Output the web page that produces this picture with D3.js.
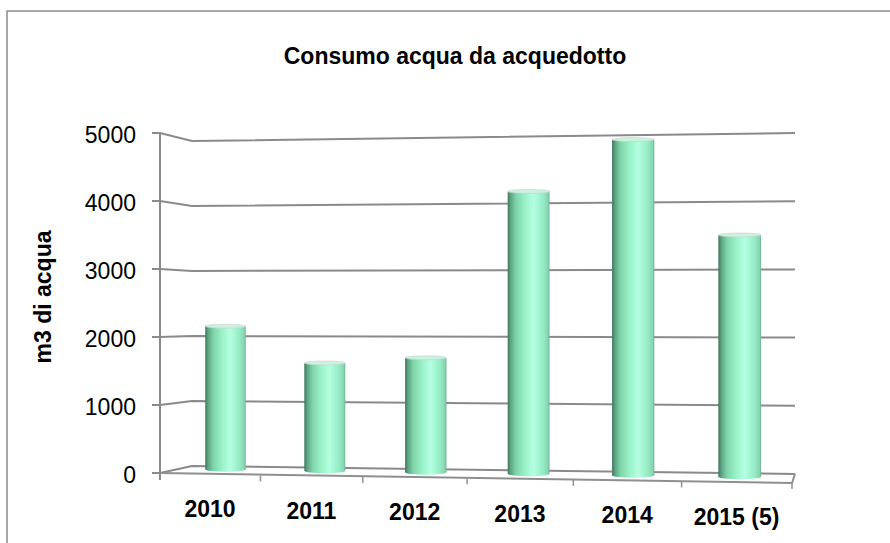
<!DOCTYPE html>
<html>
<head>
<meta charset="utf-8">
<script src="https://cdn.jsdelivr.net/npm/d3@7"></script>
<style>
  body { margin: 0; background: #fff; }
  text { font-family: "Liberation Sans", Arial, sans-serif; fill: #000; }
</style>
</head>
<body>
<div id="chart"></div>
<script>
// data
const years = ["2010", "2011", "2012", "2013", "2014", "2015 (5)"];
const consumo = [2150, 1610, 1700, 4170, 4930, 3530];
const yTicks = [0, 1000, 2000, 3000, 4000, 5000];
const chartTitle = "Consumo acqua da acquedotto";
const yTitle = "m3 di acqua";

const W = 890, H = 543;

// projective interpolator, so the categories get wider toward the right (3D look)
function persp(k) {
  return function(a, b) {
    return t => a + (b - a) * (k * t / (1 + (k - 1) * t));
  };
}

var svg = d3.select("#chart")
            .append("svg")
            .attr("width", W)
            .attr("height", H);

var defs = svg.append("defs");
var grad = defs.append("linearGradient").attr("id", "cyl")
  .attr("x1", "0%").attr("x2", "100%").attr("y1", "0%").attr("y2", "0%");
[["0%", "#3e755b"], ["7%", "#5ca583"], ["20%", "#7fd4ab"], ["42%", "#9bf2c8"],
 ["62%", "#b4ffe2"], ["84%", "#96ecc5"], ["96%", "#86d6b1"], ["100%", "#6fae92"]]
  .forEach(s => grad.append("stop").attr("offset", s[0]).attr("stop-color", s[1]));

// frame
svg.append("rect")
   .attr("x", 7).attr("y", 11)
   .attr("width", W).attr("height", H)
   .attr("fill", "none")
   .attr("stroke", "#8c8c8c")
   .attr("stroke-width", 1.5);

// title
svg.append("text")
   .attr("x", 455).attr("y", 64)
   .attr("text-anchor", "middle")
   .attr("font-weight", "bold")
   .attr("font-size", 23)
   .text(chartTitle);

// value scales: front edge, back wall left corner, back wall right corner
const yFront = d3.scaleLinear().domain([0, 5000]).range([473, 133]);
const yBackL = d3.scaleLinear().domain([0, 5000]).range([466, 141]);
const yBackR = d3.scaleLinear().domain([0, 5000]).range([474, 133]);
const xFrontL = 160, xBackL = 192, xBackR = 795;

// category scales
const xFront = d3.scaleLinear().domain([0, years.length]).range([160, 792]).interpolate(persp(0.945));
const xBar = d3.scaleLinear().domain([0, years.length - 1]).range([225.5, 739.7]).interpolate(persp(0.957));
const floorFront = d3.scaleLinear().domain([160, 792]).range([474, 483]);

// bar plane value scales (left-most and right-most bar)
const yBarL = d3.scaleLinear().domain([0, 5000]).range([469.2, 469.2 - 332.5]);
const yBarR = d3.scaleLinear().domain([0, 5000]).range([476.8, 476.8 - 342.5]);
const barT = d3.scaleLinear().domain([xBar(0), xBar(years.length - 1)]).range([0, 1]);
const barW = d3.scaleLinear().domain([0, 1]).range([40.5, 42.7]);
const yBar = (v, t) => yBarL(v) * (1 - t) + yBarR(v) * t;

var line = d3.line();

// gridlines (side wall + back wall)
svg.append("g").attr("class", "grid")
   .selectAll("path")
   .data(yTicks)
   .join("path")
   .attr("d", v => line([[xFrontL - 8, yFront(v)], [xFrontL, yFront(v)], [xBackL, yBackL(v)], [xBackR, yBackR(v)]]))
   .attr("fill", "none")
   .attr("stroke", "#8a8a8a")
   .attr("stroke-width", 2);

// floor
var floor = svg.append("g").attr("class", "floor");
floor.append("path")
   .attr("d", line([[xFrontL, yFront(0)], [xFront(years.length), floorFront(xFront(years.length))], [xBackR, yBackR(0)]]))
   .attr("fill", "none")
   .attr("stroke", "#8f8f8f")
   .attr("stroke-width", 2);
floor.selectAll("line.tk")
   .data(d3.range(years.length + 1))
   .join("line")
   .attr("class", "tk")
   .attr("x1", i => xFront(i)).attr("x2", i => xFront(i))
   .attr("y1", i => floorFront(xFront(i)))
   .attr("y2", i => floorFront(xFront(i)) + 6)
   .attr("stroke", "#8f8f8f")
   .attr("stroke-width", 1.5);

// y axis line
svg.append("line")
   .attr("x1", xFrontL).attr("x2", xFrontL)
   .attr("y1", yFront(5000)).attr("y2", yFront(0) + 7)
   .attr("stroke", "#8a8a8a")
   .attr("stroke-width", 2);

// tick labels
svg.append("g")
   .selectAll("text")
   .data(yTicks)
   .join("text")
   .attr("x", 136)
   .attr("y", v => yFront(v) + 2)
   .attr("dy", "0.35em")
   .attr("text-anchor", "end")
   .attr("font-size", 23)
   .text(v => v);

// y title
svg.append("text")
   .attr("transform", "translate(51,297) rotate(-90)")
   .attr("text-anchor", "middle")
   .attr("font-weight", "bold")
   .attr("font-size", 23)
   .text(yTitle);

// cylinders
var bars = svg.append("g").attr("class", "bars")
   .selectAll("g")
   .data(consumo)
   .join("g");

bars.each(function(v, i) {
  var g = d3.select(this);
  var cx = xBar(i), t = barT(cx), w = barW(t);
  var yb = yBar(0, t), yt = yBar(v, t);
  g.append("ellipse")
   .attr("cx", cx).attr("cy", yb)
   .attr("rx", w / 2).attr("ry", 2.5)
   .attr("fill", "url(#cyl)");
  g.append("rect")
   .attr("x", cx - w / 2).attr("y", yt)
   .attr("width", w).attr("height", yb - yt)
   .attr("fill", "url(#cyl)");
  g.append("ellipse")
   .attr("cx", cx).attr("cy", yt)
   .attr("rx", w / 2).attr("ry", 2)
   .attr("fill", "#c9f3df")
   .attr("stroke", "#c4cfc9")
   .attr("stroke-width", 0.6);
});

// category labels
const labelY = d3.scaleLinear().domain([xFront(0.5), xFront(years.length - 0.5)]).range([517, 525]);
svg.append("g")
   .selectAll("text")
   .data(years)
   .join("text")
   .attr("x", (d, i) => xFront(i + 0.5))
   .attr("y", (d, i) => labelY(xFront(i + 0.5)))
   .attr("text-anchor", "middle")
   .attr("font-weight", "bold")
   .attr("font-size", 23)
   .text(d => d);
</script>
</body>
</html>
